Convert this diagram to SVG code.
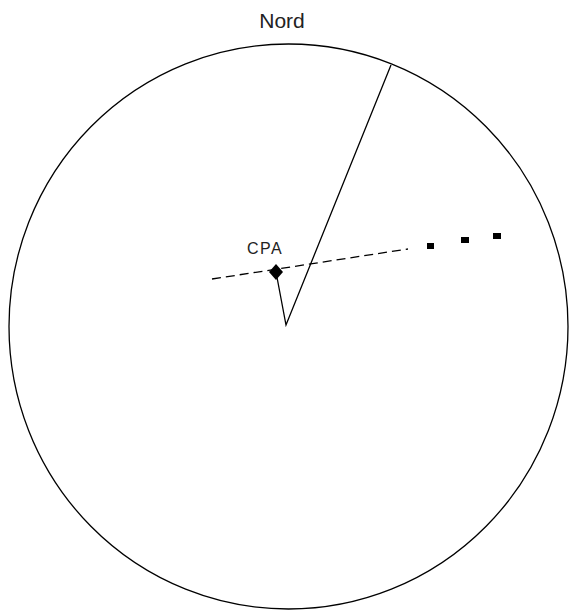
<svg xmlns="http://www.w3.org/2000/svg" width="571" height="611" viewBox="0 0 571 611">
<style>
.ln{stroke:#000;stroke-width:1.3;fill:none}
.t{font-family:"Liberation Sans",Arial,sans-serif;fill:#222}
</style>
<rect width="571" height="611" fill="#fff"/>
<g id="circle"><ellipse class="ln" cx="288.5" cy="326.5" rx="279.5" ry="282.5"/></g>
<g id="labels">
<text class="t" x="282" y="28" font-size="21" text-anchor="middle">Nord</text>
<text class="t" x="265" y="254" font-size="16" letter-spacing="1.5" text-anchor="middle">CPA</text>
</g>
<g id="connectors">
<polyline class="ln" points="391,65 286,325 276,272"/>
<line class="ln" x1="212" y1="279" x2="408" y2="249" stroke-dasharray="9,5"/>
</g>
<g id="cpa"><polygon points="276,264 283,272 276,280 269,272" fill="#000"/></g>
<g id="track">
<rect x="427" y="243" width="7" height="6" fill="#000"/>
<rect x="461" y="237" width="8" height="6" fill="#000"/>
<rect x="493" y="233" width="8" height="6" fill="#000"/>
</g>
</svg>
